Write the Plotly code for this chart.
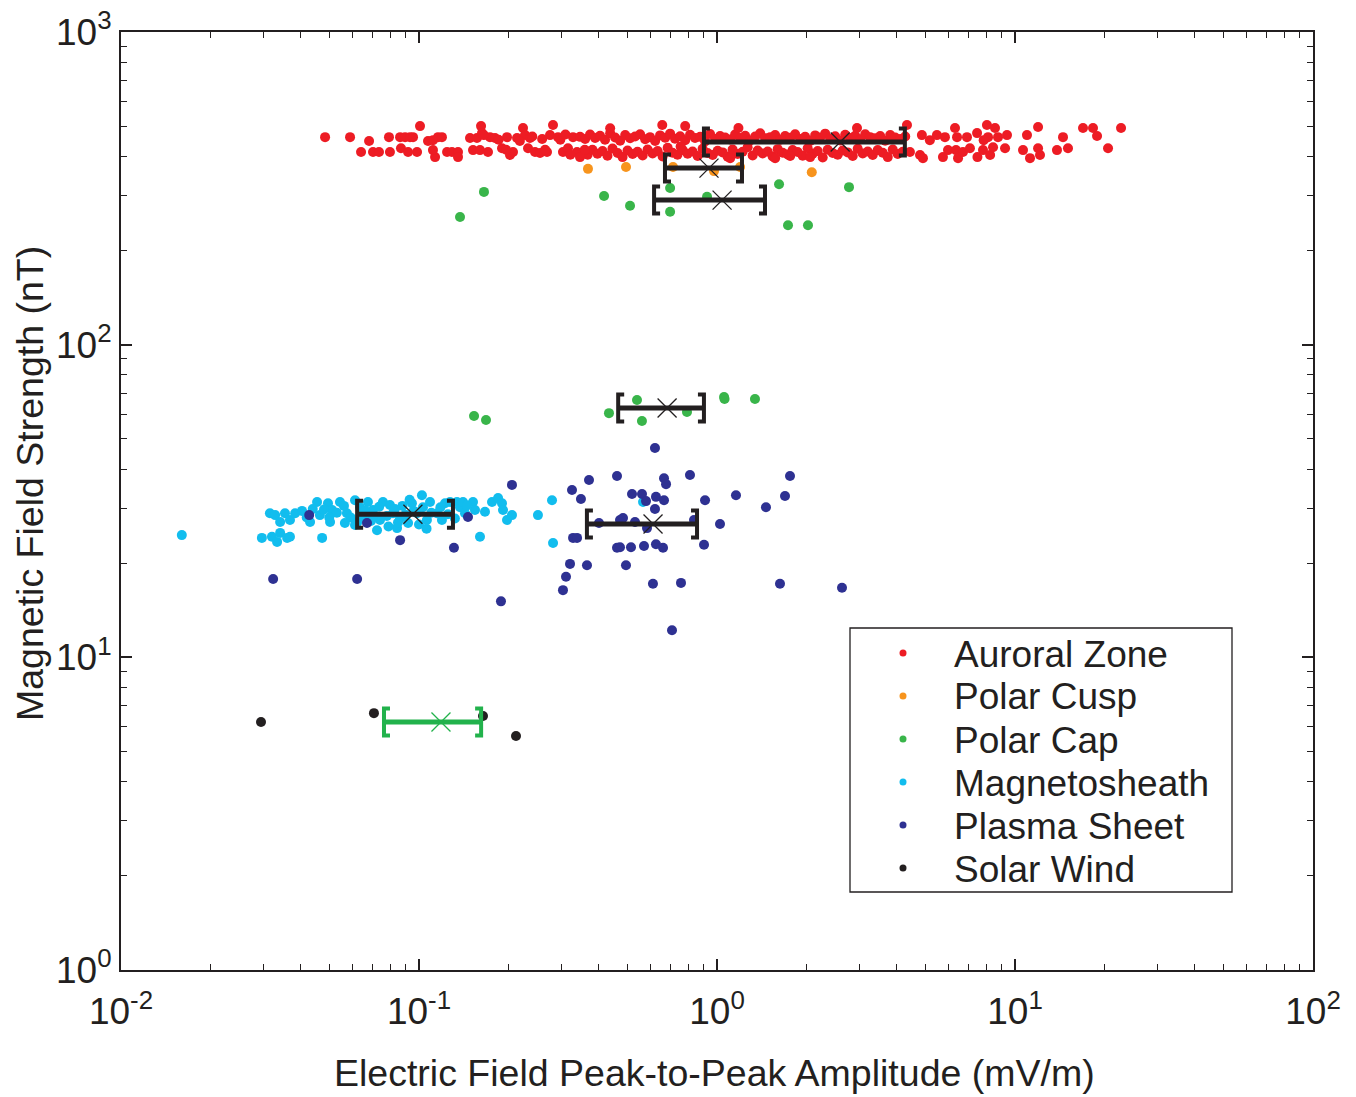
import plotly.graph_objects as go

# ---------------- data ----------------
# Auroral Zone (red) - several segments
az_left_x = [0.0484, 0.0587, 0.0639, 0.0680, 0.0701, 0.0734, 0.0793, 0.0799, 0.0864, 0.0870,
             0.0898, 0.0919, 0.0933, 0.0955, 0.0985, 0.1008, 0.1072, 0.1114, 0.1158, 0.1194,
             0.1132, 0.1114, 0.1242, 0.1290, 0.1352, 0.1352, 0.1483, 0.1565, 0.1615, 0.1627,
             0.1518, 0.1602, 0.1704, 0.1731, 0.1799, 0.1899, 0.1974, 0.2020, 0.2068, 0.2133,
             0.2234, 0.2269, 0.2358, 0.2322, 0.2451, 0.2548, 0.2689, 0.2752, 0.2816, 0.2927,
             0.3042, 0.3162, 0.3287, 0.3390, 0.165, 0.185, 0.196, 0.218, 0.240, 0.259,
             0.265, 0.298, 0.310, 0.322]
az_left_y = [461, 461, 413, 448, 413, 413, 461, 413, 461, 425,
             461, 413, 461, 461, 413, 500, 448, 451, 461, 461,
             398, 419, 413, 413, 413, 398, 458, 458, 500, 475,
             419, 419, 413, 461, 458, 425, 461, 404, 413, 458,
             493, 468, 458, 425, 413, 410, 413, 468, 504, 461,
             413, 425, 461, 413, 468, 452, 420, 448, 463, 455,
             420, 452, 470, 405]
az_upper_x = [0.347, 0.361, 0.375, 0.390, 0.405, 0.421, 0.438, 0.455, 0.473, 0.492, 0.511,
              0.531, 0.552, 0.574, 0.596, 0.620, 0.644, 0.670, 0.696, 0.723, 0.752, 0.782,
              0.812, 0.844, 0.878, 0.912, 0.948, 0.986, 1.024, 1.065, 1.107, 1.150, 1.196,
              1.243, 1.292, 1.343, 1.396, 1.451, 1.508, 1.567, 1.629, 1.693, 1.760, 1.829,
              1.902, 1.976, 2.054, 2.135, 2.219, 2.307, 2.398, 2.492, 2.591, 2.693, 2.799,
              2.909, 3.024, 3.143, 3.267, 3.395, 3.529, 3.668, 3.813, 3.963, 4.119, 4.282]
az_upper_y = [462, 455, 470, 458, 466, 452, 474, 460, 449, 468, 457,
              463, 471, 454, 461, 448, 467, 459, 473, 456, 464, 451,
              469, 458, 462, 447, 472, 455, 465, 460, 453, 470, 458,
              466, 450, 463, 474, 457, 461, 468, 452, 465, 459, 471,
              455, 462, 448, 467, 460, 473, 456, 464, 450, 469, 458,
              466, 453, 471, 461, 457, 465, 449, 468, 460, 455, 463]
az_lower_x = [0.354, 0.368, 0.382, 0.397, 0.413, 0.429, 0.446, 0.464, 0.482, 0.501, 0.521, 0.541, 0.563,
              0.585, 0.608, 0.632, 0.657, 0.683, 0.709, 0.737, 0.767, 0.797, 0.828, 0.861, 0.895, 0.930,
              0.967, 1.005, 1.045, 1.086, 1.128, 1.173, 1.219, 1.267, 1.317, 1.369, 1.423, 1.479, 1.537,
              1.598, 1.661, 1.726, 1.794, 1.865, 1.939, 2.015, 2.095, 2.177, 2.263, 2.352, 2.445, 2.541,
              2.641, 2.746, 2.854, 2.966, 3.083, 3.205, 3.331, 3.462, 3.599, 3.741, 3.888, 4.041, 4.200]
az_lower_y = [412, 405, 420, 408, 416, 402, 424, 410, 398, 418, 407, 414, 403,
              421, 409, 416, 400, 426, 411, 405, 419, 408, 415, 401, 423, 410,
              404, 417, 412, 399, 421, 407, 414, 428, 403, 418, 409, 415, 400,
              422, 411, 406, 419, 413, 402, 425, 408, 416, 397, 420, 410, 405,
              418, 412, 401, 423, 409, 415, 404, 419, 411, 398, 421, 407, 414]
az_extra_x = [0.438, 0.655, 0.782, 1.18, 2.95, 0.347, 1.107, 1.567, 1.760, 2.054, 0.360, 0.755]
az_extra_y = [492, 504, 500, 493, 493, 398, 395, 395, 401, 398, 420, 430]
az_right_x = [4.34, 4.87, 5.18, 5.47, 5.82, 6.29, 6.39, 6.90, 7.46, 8.05, 8.57, 8.12,
              8.77, 9.40, 10.97, 11.95, 14.49, 16.91, 18.27, 18.85, 22.69, 15.06, 13.83, 20.52,
              4.44, 4.80, 4.91, 5.73, 5.96, 6.34, 6.44, 6.69, 7.06, 7.48, 7.81, 8.25,
              9.26, 10.64, 11.23, 12.13, 11.95, 8.44, 7.85]
az_right_y = [504, 468, 451, 468, 461, 493, 461, 461, 475, 504, 493, 461,
              461, 468, 468, 497, 461, 493, 493, 465, 493, 425, 419, 425,
              413, 404, 395, 398, 419, 419, 395, 413, 425, 398, 419, 404,
              425, 419, 395, 404, 425, 428, 451]

# Polar Cusp (orange)
cusp_x = [0.369, 0.495, 0.712, 0.977, 1.195, 2.08]
cusp_y = [365, 370, 370, 359, 370, 356]

# Polar Cap (green)
cap_x = [0.1652, 0.1373, 0.4178, 0.5107, 0.696, 0.696, 0.926, 1.615, 2.773, 1.731, 2.020,
         0.153, 0.1678, 0.434, 0.539, 0.560, 0.793, 1.056, 1.060, 1.341]
cap_y = [308, 256, 299, 278, 266, 317, 297, 326, 319, 241, 241,
         59.1, 57.4, 60.4, 66.5, 57.0, 60.9, 68.0, 67.0, 67.0]

# Magnetosheath (cyan)
ms_x = [0.0160, 0.0297, 0.0316, 0.0321, 0.0329, 0.0334, 0.0342, 0.0342, 0.0355, 0.0361,
        0.0369, 0.0369, 0.0384, 0.0405, 0.0431, 0.0455, 0.0465, 0.0473, 0.0495, 0.0503,
        0.0511, 0.0543, 0.0564, 0.0573, 0.0610, 0.0634, 0.0649, 0.0674, 0.0701, 0.0723,
        0.0740, 0.0757, 0.0799, 0.0818, 0.0844, 0.0864, 0.0919, 0.0947, 0.0985, 0.1023,
        0.1031, 0.1063, 0.1089, 0.1149, 0.1194, 0.1223, 0.1271, 0.1341, 0.1373, 0.1405,
        0.1427, 0.1518, 0.1541, 0.1602, 0.1665, 0.1758, 0.1842, 0.1899, 0.1914, 0.1974,
        0.2051, 0.2507, 0.2795, 0.2817, 0.5647,
        0.0530, 0.0590, 0.0620, 0.0660, 0.0690, 0.0780, 0.0830, 0.0880, 0.0900, 0.0960,
        0.1000, 0.1100, 0.1180, 0.1250, 0.1320, 0.1450, 0.0560, 0.0610, 0.0735, 0.0790,
        0.0850, 0.0700, 0.0500, 0.0440, 0.1060, 0.0930, 0.0420, 0.0480]
ms_y = [24.6, 24.1, 28.9, 24.3, 28.5, 23.4, 27.1, 25.0, 28.9, 24.1,
        27.5, 24.3, 28.9, 29.4, 27.1, 31.4, 28.5, 24.1, 31.1, 27.1,
        29.6, 31.4, 26.9, 28.9, 31.8, 30.2, 28.1, 31.4, 29.6, 25.5,
        27.5, 31.4, 30.7, 28.9, 25.9, 27.9, 26.9, 31.1, 28.9, 33.0,
        30.2, 27.5, 31.4, 28.9, 27.5, 31.1, 31.4, 31.4, 30.2, 31.4,
        28.9, 31.4, 29.6, 24.3, 29.2, 31.4, 32.3, 31.1, 29.6, 27.5,
        28.5, 28.5, 31.8, 23.2, 31.4,
        29.0, 28.0, 27.0, 29.5, 27.3, 28.3, 29.8, 30.5, 28.6, 29.4,
        26.6, 29.0, 30.2, 28.7, 27.8, 30.6, 30.5, 26.5, 30.3, 26.2,
        27.0, 28.2, 28.0, 29.8, 25.8, 31.9, 28.0, 29.7]

# Plasma Sheet (dark blue)
ps_x = [0.0324, 0.0428, 0.0620, 0.0669, 0.0864, 0.1310, 0.1460, 0.2051,
        0.6192, 0.3720, 0.4618, 0.6640, 0.6745, 0.8116, 1.758, 0.3262, 0.3495, 0.5186,
        0.5602, 0.5778, 0.6240, 0.6640, 0.9117, 1.158, 1.691, 1.460, 0.6192, 0.4726,
        0.4837, 0.5307, 0.4018, 0.8372, 1.0235, 0.5823, 0.3288, 0.3391, 0.4618, 0.4726,
        0.5145, 0.5690, 0.6240, 0.6590, 0.9046, 0.3212, 0.3662, 0.4950, 0.3114, 0.3042,
        0.6097, 0.7571, 1.627, 2.627, 0.1884, 0.7063]
ps_y = [17.8, 28.5, 17.8, 26.9, 23.7, 22.4, 28.1, 35.6,
        46.7, 36.9, 38.0, 37.4, 35.8, 38.3, 38.0, 34.3, 32.1, 33.3,
        33.3, 31.6, 32.6, 31.8, 31.8, 33.0, 32.8, 30.2, 29.8, 27.5,
        27.9, 27.1, 26.9, 27.5, 26.7, 25.9, 24.1, 24.1, 22.4, 22.5,
        22.5, 22.7, 23.0, 22.4, 22.9, 19.9, 19.7, 19.7, 18.1, 16.4,
        17.2, 17.3, 17.2, 16.7, 15.1, 12.2]

# Solar Wind (black)
sw_x = [0.0295, 0.0706, 0.1640, 0.2116]
sw_y = [6.21, 6.63, 6.49, 5.60]

# Group statistics (centre "x" and bracketed range)
bar_center = [2.59, 0.94, 1.04, 0.68, 0.61, 0.0954, 0.1185]
bar_lo = [0.904, 0.669, 0.615, 0.466, 0.366, 0.062, 0.0763]
bar_hi = [4.27, 1.213, 1.449, 0.904, 0.857, 0.130, 0.1616]
bar_y = [445, 367, 290, 62.7, 26.7, 28.7, 6.21]

series_names = ["Auroral Zone", "Polar Cusp", "Polar Cap", "Magnetosheath", "Plasma Sheet", "Solar Wind"]

x_tick_vals = [0.01, 0.1, 1, 10, 100]
x_tick_text = ["10<sup>-2</sup>", "10<sup>-1</sup>", "10<sup>0</sup>", "10<sup>1</sup>", "10<sup>2</sup>"]
y_tick_vals = [1, 10, 100, 1000]
y_tick_text = ["10<sup>0</sup>", "10<sup>1</sup>", "10<sup>2</sup>", "10<sup>3</sup>"]

x_title = "Electric Field Peak-to-Peak Amplitude (mV/m)"
y_title = "Magnetic Field Strength (nT)"

# ---------------- styling ----------------
FONT = "Liberation Sans, Arial, Helvetica, sans-serif"
TXT = "#231F20"
C_AZ = "#ED1C24"
C_CUSP = "#F7941D"
C_CAP = "#39B54A"
C_MS = "#12BDEE"
C_PS = "#2E3192"
C_SW = "#231F20"
C_BAR_SW = "#22B24C"
series_colors = [C_AZ, C_CUSP, C_CAP, C_MS, C_PS, C_SW]
bar_colors = [TXT, TXT, TXT, TXT, TXT, TXT, C_BAR_SW]

az_x = az_left_x + az_upper_x + az_lower_x + az_extra_x + az_right_x
az_y = az_left_y + az_upper_y + az_lower_y + az_extra_y + az_right_y
data = [(az_x, az_y), (cusp_x, cusp_y), (cap_x, cap_y), (ms_x, ms_y), (ps_x, ps_y), (sw_x, sw_y)]

# body margin removed in the page (post_script); plot area at x 121..1313, y 32..970
W, H = 1356, 1097
ML, MT = 121, 32
PLOT_W, PLOT_H = 1192, 938
MR = W - ML - PLOT_W
MB = H - MT - PLOT_H

fig = go.Figure()
for (xs, ys), col, name in zip(data, series_colors, series_names):
    fig.add_trace(go.Scatter(x=xs, y=ys, mode="markers", name=name,
                             marker=dict(size=10, color=col, line=dict(width=0)),
                             showlegend=False, hoverinfo="skip"))

# bracket geometry (pixel sizes translated through the axis scale)
PX_PER_DEC_X = PLOT_W / 4.0
PX_PER_DEC_Y = PLOT_H / 3.0
U = 10 ** (13.5 / PX_PER_DEC_Y)   # half height of bracket
F = 10 ** (6 / PX_PER_DEC_X)      # serif length

for c, lo, hi, y, col in zip(bar_center, bar_lo, bar_hi, bar_y, bar_colors):
    fig.add_trace(go.Scatter(x=[lo, hi], y=[y, y], mode="lines",
                             line=dict(color=col, width=5), showlegend=False, hoverinfo="skip"))
    bx = [lo * F, lo, lo, lo * F, None, hi / F, hi, hi, hi / F]
    by = [y * U, y * U, y / U, y / U, None, y * U, y * U, y / U, y / U]
    fig.add_trace(go.Scatter(x=bx, y=by, mode="lines",
                             line=dict(color=col, width=4), showlegend=False, hoverinfo="skip"))
    fig.add_trace(go.Scatter(x=[c], y=[y], mode="markers",
                             marker=dict(symbol="x-thin-open", size=19, color=col,
                                         line=dict(width=1.3, color=col)),
                             showlegend=False, hoverinfo="skip"))

x_minor = [m * 10 ** e for e in range(-2, 2) for m in range(2, 10)]
y_minor = [m * 10 ** e for e in range(0, 3) for m in range(2, 10)]

axis_common = dict(type="log", showgrid=False, zeroline=False, showline=True,
                   linecolor=TXT, linewidth=2, mirror="ticks", ticks="inside",
                   ticklen=11, tickwidth=1.6, tickcolor=TXT, ticklabeloverflow="allow",
                   tickfont=dict(size=37, color=TXT, family=FONT))

fig.update_xaxes(range=[-2, 2], tickmode="array", tickvals=x_tick_vals, ticktext=x_tick_text,
                 ticklabelstandoff=8,
                 minor=dict(tickmode="array", tickvals=x_minor, ticks="inside", ticklen=6,
                            tickwidth=1.3, tickcolor=TXT, showgrid=False),
                 **axis_common)
fig.update_yaxes(range=[0, 3], tickmode="array", tickvals=y_tick_vals, ticktext=y_tick_text,
                 minor=dict(tickmode="array", tickvals=y_minor, ticks="inside", ticklen=6,
                            tickwidth=1.3, tickcolor=TXT, showgrid=False),
                 **axis_common)


def px_to_paper_x(px):
    return (px - ML) / PLOT_W


def px_to_paper_y(py):
    return (MT + PLOT_H - py) / PLOT_H


annotations = [
    dict(text=y_title, xref="paper", yref="paper",
         x=px_to_paper_x(30), y=px_to_paper_y(484),
         xanchor="center", yanchor="middle", textangle=-90, showarrow=False,
         font=dict(size=37.5, color=TXT, family=FONT)),
    dict(text=x_title, xref="paper", yref="paper",
         x=px_to_paper_x(714), y=px_to_paper_y(1073),
         xanchor="center", yanchor="middle", showarrow=False,
         font=dict(size=37.5, color=TXT, family=FONT)),
]

# ---- legend box (drawn by hand to match the reference spacing) ----
legend_box = (850, 628, 1232, 892)
legend_rows_py = [653, 696, 739, 782, 825, 868]
legend_dot_px = 903
legend_text_px = 952

shapes = [dict(type="rect", xref="paper", yref="paper",
               x0=px_to_paper_x(legend_box[0]), x1=px_to_paper_x(legend_box[2]),
               y0=px_to_paper_y(legend_box[3]), y1=px_to_paper_y(legend_box[1]),
               line=dict(color=TXT, width=1.3), fillcolor="white", layer="above")]
for name, col, py in zip(series_names, series_colors, legend_rows_py):
    shapes.append(dict(type="circle", xref="paper", yref="paper",
                       xsizemode="pixel", ysizemode="pixel",
                       xanchor=px_to_paper_x(legend_dot_px), yanchor=px_to_paper_y(py),
                       x0=-3.5, x1=3.5, y0=-3.5, y1=3.5,
                       fillcolor=col, line=dict(width=0), layer="above"))
    annotations.append(dict(text=name, xref="paper", yref="paper",
                            x=px_to_paper_x(legend_text_px), y=px_to_paper_y(py + 1),
                            xanchor="left", yanchor="middle", showarrow=False,
                            font=dict(size=37, color=TXT, family=FONT)))

fig.update_layout(
    width=W, height=H,
    margin=dict(l=ML, r=MR, t=MT, b=MB, autoexpand=False),
    paper_bgcolor="white", plot_bgcolor="white",
    font=dict(family=FONT, size=35, color=TXT),
    showlegend=False,
    shapes=shapes,
    annotations=annotations,
)

fig.write_html("out.html",
               config={"displayModeBar": False},
               post_script="document.body.style.margin='0';document.body.style.overflow='hidden';")
